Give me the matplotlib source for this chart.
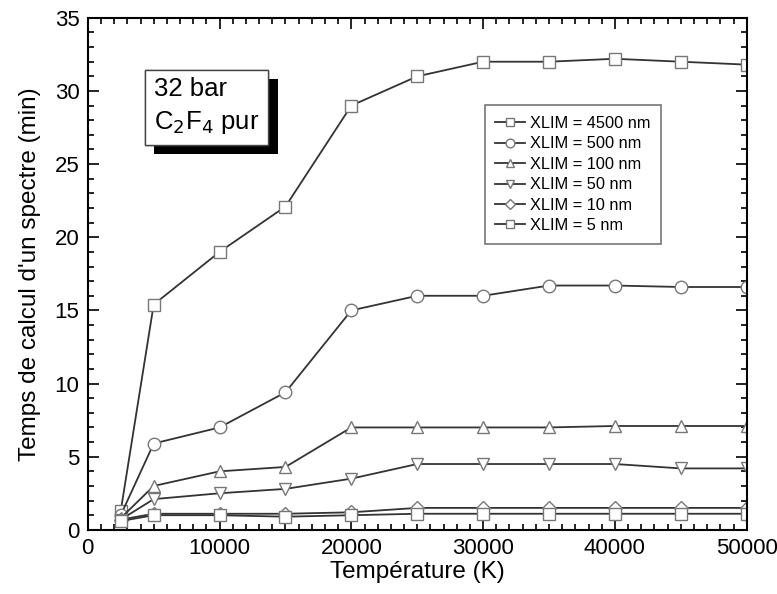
import matplotlib.pyplot as plt
import matplotlib.patheffects as pe
from matplotlib.ticker import MultipleLocator

plt.rcParams['font.family'] = ['Liberation Sans', 'DejaVu Sans']

# Température (K)
temperature = [2500, 5000, 10000, 15000, 20000, 25000, 30000, 35000, 40000, 45000, 50000]

# temps de calcul (min) pour chaque XLIM
t_4500 = [1.3, 15.4, 19.0, 22.1, 29.0, 31.0, 32.0, 32.0, 32.2, 32.0, 31.8]
t_500 = [1.0, 5.9, 7.0, 9.4, 15.0, 16.0, 16.0, 16.7, 16.7, 16.6, 16.6]
t_100 = [0.8, 3.0, 4.0, 4.3, 7.0, 7.0, 7.0, 7.0, 7.1, 7.1, 7.1]
t_50 = [0.7, 2.1, 2.5, 2.8, 3.5, 4.5, 4.5, 4.5, 4.5, 4.2, 4.2]
t_10 = [0.7, 1.1, 1.1, 1.1, 1.2, 1.5, 1.5, 1.5, 1.5, 1.5, 1.5]
t_5 = [0.6, 1.0, 1.0, 0.9, 1.0, 1.1, 1.1, 1.1, 1.1, 1.1, 1.1]

labels = ['XLIM = 4500 nm', 'XLIM = 500 nm', 'XLIM = 100 nm',
          'XLIM = 50 nm', 'XLIM = 10 nm', 'XLIM = 5 nm']
series = [t_4500, t_500, t_100, t_50, t_10, t_5]
markers = ['s', 'o', '^', 'v', 'D', 's']
msizes = [8, 9, 9, 9, 7, 8]

fig = plt.figure(figsize=(7.77, 5.94), dpi=100)
ax = fig.add_axes([0.113, 0.108, 0.848, 0.862])

for y, m, ms, lab in zip(series, markers, msizes, labels):
    ax.plot(temperature, y, color='#333333', lw=1.3, marker=m, ms=ms,
            mfc='white', mec='#777777', mew=1.0, label=lab)

ax.set_xlim(0, 50000)
ax.set_ylim(0, 35)
ax.xaxis.set_major_locator(MultipleLocator(10000))
ax.xaxis.set_minor_locator(MultipleLocator(1000))
ax.yaxis.set_major_locator(MultipleLocator(5))
ax.yaxis.set_minor_locator(MultipleLocator(1))
ax.tick_params(which='both', direction='in', top=True, right=True,
               labelsize=16, width=1.2, pad=6)
ax.tick_params(which='major', length=8)
ax.tick_params(which='minor', length=4)
for s in ax.spines.values():
    s.set_linewidth(1.5)

ax.set_xlabel('Température (K)', fontsize=17.5, labelpad=1)
ax.set_ylabel("Temps de calcul d'un spectre (min)", fontsize=17.5, labelpad=10)

leg = ax.legend(loc='upper left', bbox_to_anchor=(0.59, 0.845), fontsize=11.8,
                frameon=True, fancybox=False, edgecolor='#555555',
                handlelength=1.8, handletextpad=0.3, labelspacing=0.33,
                borderpad=0.65, markerscale=0.7)
leg.get_frame().set_linewidth(1.2)

t = ax.text(0.1, 0.885, '32 bar\nC$_2$F$_4$ pur', transform=ax.transAxes,
            fontsize=18.5, va='top', ha='left', linespacing=1.4,
            bbox=dict(boxstyle='square,pad=0.35', fc='white', ec='#444444', lw=1.0))
t.get_bbox_patch().set_path_effects([
    pe.withSimplePatchShadow(offset=(7, -7), shadow_rgbFace='black', alpha=1.0),
    pe.Normal()])

fig.savefig('out.png', dpi=100)
